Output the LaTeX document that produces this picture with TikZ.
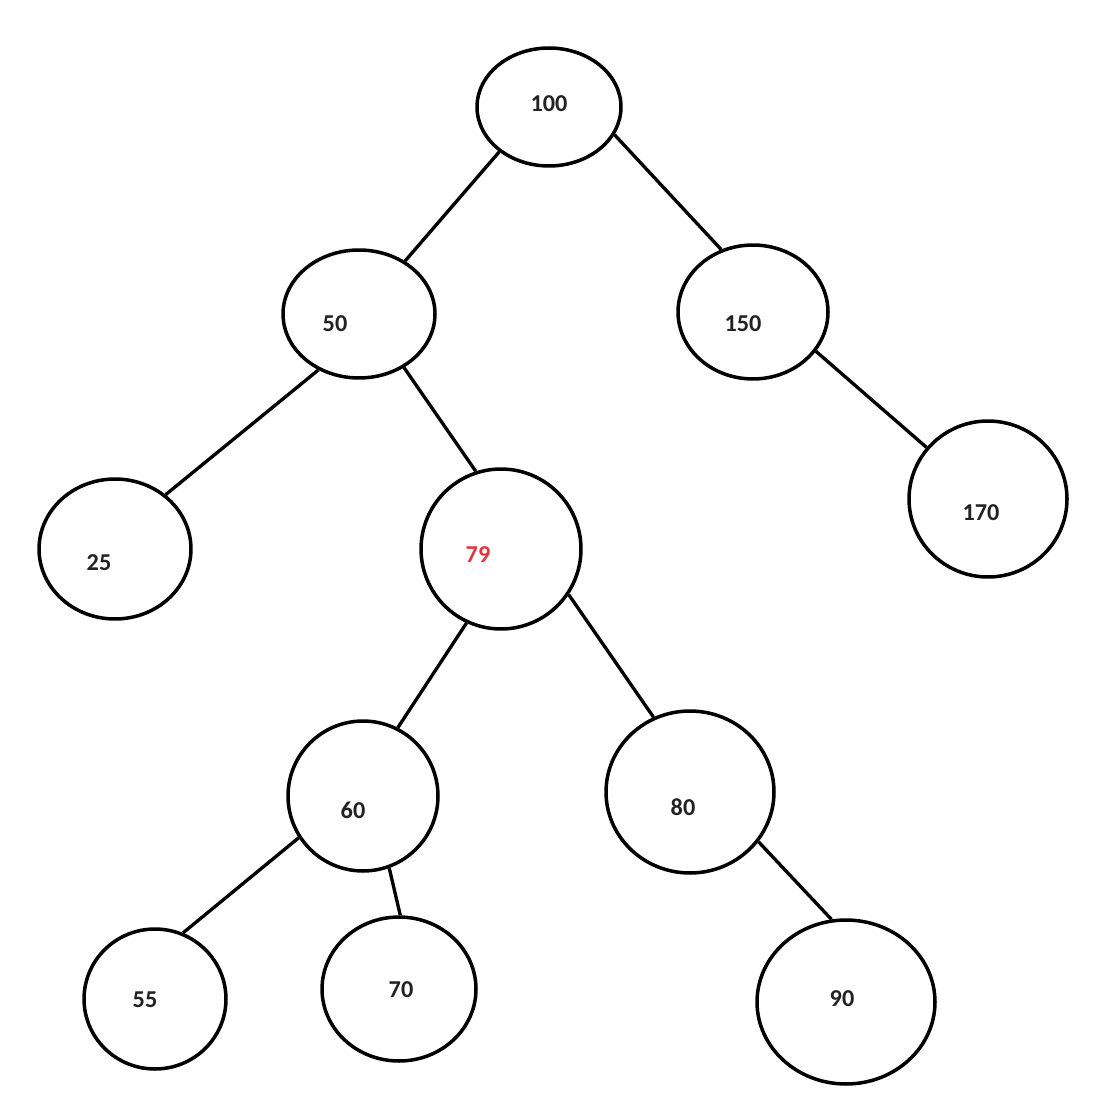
\documentclass[tikz,border=0pt]{standalone}
\usepackage{fontspec}
\setmainfont{Carlito}
\usetikzlibrary{shapes.geometric}
\definecolor{txt}{HTML}{222222}
\definecolor{hot}{HTML}{E8323C}
\begin{document}
\begin{tikzpicture}[x=0.02cm,y=-0.02cm,
  bub/.style={draw=black,line width=2pt,ellipse,inner sep=0pt},
  lbl/.style={font=\fontsize{13.8}{16}\selectfont\bfseries,text=txt,inner sep=0pt},
  edge/.style={draw=black,line width=1.9pt}]
\useasboundingbox (0,0) rectangle (1103,1114);
% bubbles
\node[bub,minimum width=2.88cm,minimum height=2.36cm] (n100) at (549,107) {};
\node[bub,minimum width=3.04cm,minimum height=2.56cm] (n50) at (359,314) {};
\node[bub,minimum width=3.00cm,minimum height=2.68cm] (n150) at (753,312) {};
\node[bub,minimum width=3.04cm,minimum height=2.80cm] (n25) at (115,549) {};
\node[bub,minimum width=3.20cm,minimum height=3.20cm] (n79) at (501,549) {};
\node[bub,minimum width=3.16cm,minimum height=3.12cm] (n170) at (988,499) {};
\node[bub,minimum width=3.00cm,minimum height=3.00cm] (n60) at (363,796) {};
\node[bub,minimum width=3.36cm,minimum height=3.24cm] (n80) at (690,792) {};
\node[bub,minimum width=2.84cm,minimum height=2.80cm] (n55) at (155,999) {};
\node[bub,minimum width=3.08cm,minimum height=2.88cm] (n70) at (399,989) {};
\node[bub,minimum width=3.56cm,minimum height=3.28cm] (n90) at (846,1002) {};
% labels
\node[lbl] (t100) at (549,104) {100};
\node[lbl] (t50) at (335,324) {50};
\node[lbl] (t150) at (743,324) {150};
\node[lbl] (t25) at (99,563) {25};
\node[lbl,text=hot] (t79) at (478,555) {79};
\node[lbl] (t170) at (981,513) {170};
\node[lbl] (t60) at (353,810) {60};
\node[lbl] (t80) at (683,807) {80};
\node[lbl] (t55) at (145,1000) {55};
\node[lbl] (t70) at (401,990) {70};
\node[lbl] (t90) at (842,999) {90};
% edges
\draw[edge] (n100.222.6) -- (n50.49.2);
\draw[edge] (n100.337) -- (n150.117);
\draw[edge] (n50.234.6) -- (n25.47.7);
\draw[edge] (n50.310) -- (n79.108);
\draw[edge] (n150.328) -- (n170.140);
\draw[edge] (n79.245.6) -- (n60.63.4);
\draw[edge] (n79.326.5) -- (n80.116);
\draw[edge] (n60.213) -- (n55.67.7);
\draw[edge] (n60.290) -- (n70.89);
\draw[edge] (n80.324) -- (n90.100);
\end{tikzpicture}
\end{document}
